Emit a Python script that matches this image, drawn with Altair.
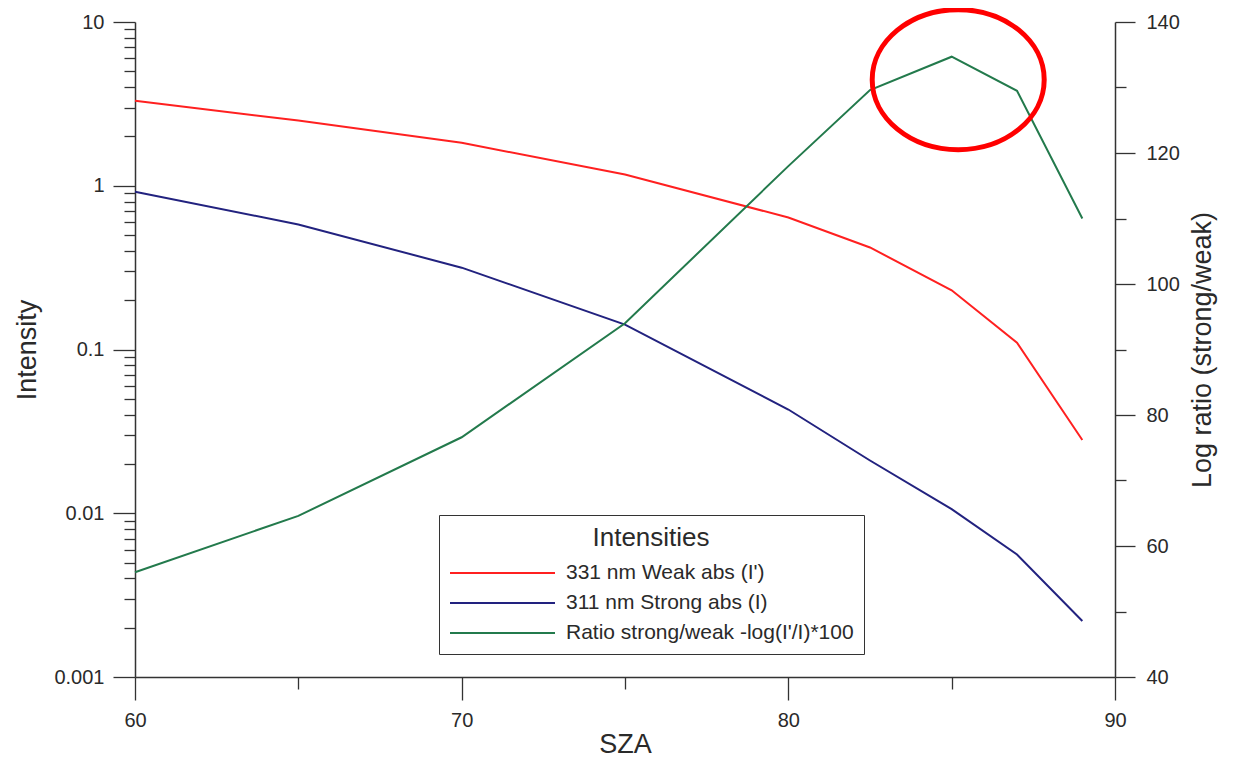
import altair as alt
import pandas as pd

# ---- data ----
sza = [60, 65, 70, 75, 80, 82.5, 85, 87, 89]
weak_331 = [3.3, 2.5, 1.83, 1.17, 0.64, 0.42, 0.23, 0.11, 0.028]
strong_311 = [0.92, 0.58, 0.316, 0.142, 0.043, 0.021, 0.0106, 0.0056, 0.0022]
ratio = [56, 64.6, 76.6, 94, 118, 129.6, 134.7, 129.5, 110]

series_names = ["331 nm Weak abs (I')", "311 nm Strong abs (I)", "Ratio strong/weak -log(I'/I)*100"]
series_colors = ["#ff2020", "#22227f", "#237a4c"]

x_major = [60, 70, 80, 90]
x_minor = [65, 75, 85]
y_major = [0.001, 0.01, 0.1, 1, 10]
y_minor = [2, 3, 4, 5, 6, 7, 8, 9]
r_major = [40, 60, 80, 100, 120, 140]
r_minor = [50, 70, 90, 110, 130]

highlight_sza = [85.2]
highlight_ratio = [131.2]

FONT = "Liberation Sans"
INK = "#2a2a2a"

y_minor_vals = [m * 10.0 ** e for e in range(-3, 1) for m in y_minor]

df_int = pd.DataFrame({
    "SZA": sza * 2,
    "value": weak_331 + strong_311,
    "series": [series_names[0]] * len(sza) + [series_names[1]] * len(sza),
})
df_ratio = pd.DataFrame({"SZA": sza, "value": ratio, "series": [series_names[2]] * len(sza)})
df_hl = pd.DataFrame({"SZA": highlight_sza, "value": highlight_ratio})

xscale = alt.Scale(domain=[60, 90], nice=False, zero=False)
yscale_log = alt.Scale(type="log", domain=[0.001, 10], nice=False)
yscale_r = alt.Scale(domain=[40, 140], nice=False, zero=False)

legend = alt.Legend(
    title="Intensities", orient="none", legendX=304, legendY=493, direction="vertical",
    symbolType="stroke", symbolSize=11025, symbolStrokeWidth=2, clipHeight=22,
    rowPadding=8, labelFontSize=21, labelFont=FONT, labelColor=INK, labelOffset=10,
    labelLimit=500, titleFontSize=26, titleFont=FONT, titleColor=INK,
    titleFontWeight="normal", titleAnchor="middle", titleAlign="center", titlePadding=11,
    padding=10, strokeColor="#333333", fillColor="white", symbolOffset=0,
)
color = alt.Color("series:N", scale=alt.Scale(domain=series_names, range=series_colors), legend=legend)

common_axis = dict(labelFont=FONT, titleFont=FONT, labelColor=INK, titleColor=INK,
                   domainColor="#333333", tickColor="#333333", domainWidth=1.5, tickWidth=1.3,
                   grid=False, titleFontWeight="normal", labelFlush=False, labelOverlap=False)

x_main = alt.X("SZA:Q", scale=xscale, axis=alt.Axis(
    orient="bottom", values=x_major, tickSize=23, labelFontSize=20, labelPadding=10,
    title="SZA", titleFontSize=27, titlePadding=1, format="d", **common_axis))
x_minor_enc = alt.X("SZA:Q", scale=xscale, axis=alt.Axis(
    orient="bottom", values=x_minor, tickSize=12, labels=False, domain=False, title=None,
    tickColor="#333333", tickWidth=1.3, grid=False))
x_none = alt.X("SZA:Q", scale=xscale, axis=None)

lines_int = alt.Chart(df_int).mark_line(strokeWidth=2).encode(
    x=x_main,
    y=alt.Y("value:Q", scale=yscale_log, axis=alt.Axis(
        orient="left", values=y_major, tickSize=22, labelFontSize=20, labelPadding=9,
        labelExpr="format(datum.value, '~g')", title="Intensity", titleFontSize=27,
        titlePadding=12, **common_axis)),
    color=color,
    detail="series:N",
)

minor_left = alt.Chart(df_int).mark_point(opacity=0).encode(
    x=x_minor_enc,
    y=alt.Y("value:Q", scale=yscale_log, axis=alt.Axis(
        orient="left", values=y_minor_vals, tickSize=11, labels=False, domain=False,
        title=None, tickColor="#333333", tickWidth=1.3, grid=False)),
)

line_ratio = alt.Chart(df_ratio).mark_line(strokeWidth=2).encode(
    x=x_none,
    y=alt.Y("value:Q", scale=yscale_r, axis=alt.Axis(
        orient="right", values=r_major, tickSize=20, labelFontSize=20, labelPadding=11,
        title="Log ratio (strong/weak)", titleFontSize=27, titleAngle=270,
        titleBaseline="top", titlePadding=10, **common_axis)),
    color=color,
)

minor_right = alt.Chart(df_ratio).mark_point(opacity=0).encode(
    x=x_none,
    y=alt.Y("value:Q", scale=yscale_r, axis=alt.Axis(
        orient="right", values=r_minor, tickSize=11, labels=False, domain=False,
        title=None, tickColor="#333333", tickWidth=1.3, grid=False)),
)

ellipse = alt.Chart(df_hl).mark_point(
    shape="M -1 0 A 1 0.814 0 1 1 1 0 A 1 0.814 0 1 1 -1 0 Z",
    size=29584, filled=False, stroke="#ff0000", strokeWidth=5, opacity=1,
).encode(
    x=x_none,
    y=alt.Y("value:Q", scale=yscale_r, axis=None),
)

chart = alt.layer(lines_int, minor_left, line_ratio, minor_right, ellipse).resolve_scale(
    y="independent"
).resolve_axis(x="independent", y="independent").properties(
    width=980, height=655, autosize="none",
    padding={"left": 127, "top": 14, "right": 123, "bottom": 84},
    background="white",
).configure_view(stroke=None)

chart.save("out.html", embed_options={"renderer": "svg", "actions": False})
